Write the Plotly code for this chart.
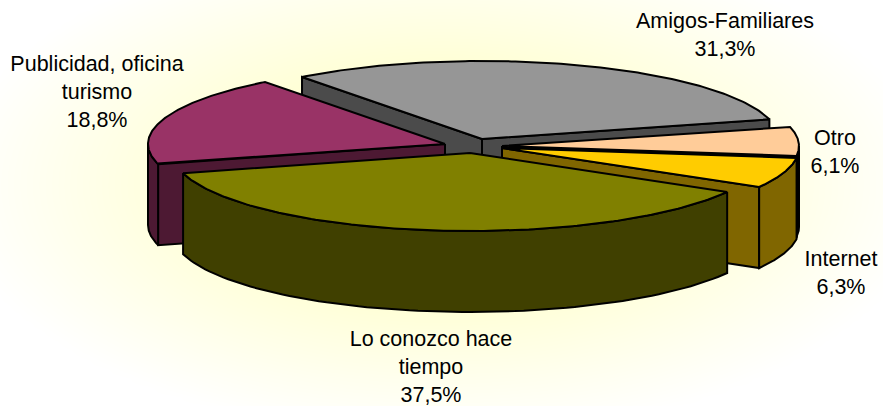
import numpy as np
import plotly.graph_objects as go

categories = ["Amigos-Familiares", "Otro", "Internet", "Lo conozco hace<br>tiempo", "Publicidad, oficina<br>turismo"]
values = [31.3, 6.1, 6.3, 37.5, 18.8]
top_colors = ["#969696", "#FFCC99", "#FFCC00", "#808000", "#993366"]
side_colors = ["#4B4B4B", "#000000", "#806600", "#404000", "#4D1933"]

START = 322.7
RX, RY, DEPTH = 297.0, 78.0, 81.0
apex = [(482, 139), (502, 146), (502, 148), (470, 153), (445, 144)]
label_pos = [(725, 37), (835, 154), (841, 275), (431, 369), (97, 94)]

W, H = 883, 406
fig = go.Figure()

# soft radial background
gx = np.linspace(0, W, 90)
gy = np.linspace(0, H, 45)
X, Y = np.meshgrid(gx, gy)
d = np.sqrt(((X - W / 2) / (W * 0.56)) ** 2 + ((Y - 185) / (H * 0.62)) ** 2)
Z = np.clip((1.0 - d) / 0.6, 0, 1)
fig.add_trace(go.Heatmap(x=gx, y=gy, z=Z, zmin=0, zmax=1, zsmooth="best", showscale=False,
                         hoverinfo="skip", colorscale=[[0, "#FFFFFF"], [1, "#FFFFD0"]]))


def pt(c, th, dz=0.0):
    r = np.radians(th)
    return c[0] + RX * np.sin(r), c[1] - RY * np.cos(r) + dz


def poly(xs, ys, color):
    fig.add_trace(go.Scatter(x=list(xs) + [xs[0]], y=list(ys) + [ys[0]], mode="lines", fill="toself",
                             fillcolor=color, line=dict(color="black", width=2), hoverinfo="skip",
                             showlegend=False))


# slice angular spans from the values
spans = []
a = START
for v in values:
    b = a + v * 3.6
    if a >= 360:
        spans.append((a - 360, b - 360))
    else:
        spans.append((a, b))
    a = b


def radial_face(c, th, color):
    x, y = pt(c, th)
    poly([c[0], x, x, c[0]], [c[1], y, y + DEPTH, c[1] + DEPTH], color)


def outer_face(c, a0, a1, color):
    lo, hi = max(a0, 90), min(a1, 270)
    if hi <= lo:
        return
    th = np.linspace(lo, hi, 80)
    xt, yt = pt(c, th)
    xs = np.concatenate([xt, xt[::-1]])
    ys = np.concatenate([yt, (yt + DEPTH)[::-1]])
    poly(xs, ys, color)


def top_face(c, a0, a1, color):
    th = np.linspace(a0, a1, 140)
    xt, yt = pt(c, th)
    poly([c[0]] + list(xt), [c[1]] + list(yt), color)


# painter's order, back to front
draw_order = [0, 4, 1, 2, 3]
for i in draw_order:
    a0, a1 = spans[i]
    c = apex[i]
    if i == 0:
        radial_face(c, a0, side_colors[i])
        radial_face(c, a1, side_colors[i])
    elif i == 4:
        radial_face(c, a0, side_colors[i])
    elif i in (1, 2):
        radial_face(c, a1, side_colors[i])
    if i != 0:
        outer_face(c, a0, a1, side_colors[i])
    top_face(c, a0, a1, top_colors[i])

labels = [f"{n}<br>{v:.1f}%".replace(".", ",") for n, v in zip(categories, values)]
fig.add_trace(go.Scatter(x=[p[0] for p in label_pos], y=[p[1] for p in label_pos], mode="text",
                         text=labels, textposition="middle center", hoverinfo="skip", showlegend=False,
                         textfont=dict(family="Liberation Sans, Arial, sans-serif", size=21.5, color="black")))

fig.update_layout(width=W, height=H, margin=dict(l=0, r=0, t=0, b=0), showlegend=False,
                  paper_bgcolor="white", plot_bgcolor="white",
                  xaxis=dict(range=[0, W], visible=False, fixedrange=True),
                  yaxis=dict(range=[H, 0], visible=False, fixedrange=True))
fig.write_html("out.html", config={"displayModeBar": False},
               post_script="document.body.style.margin='0';document.body.style.overflow='hidden';")
